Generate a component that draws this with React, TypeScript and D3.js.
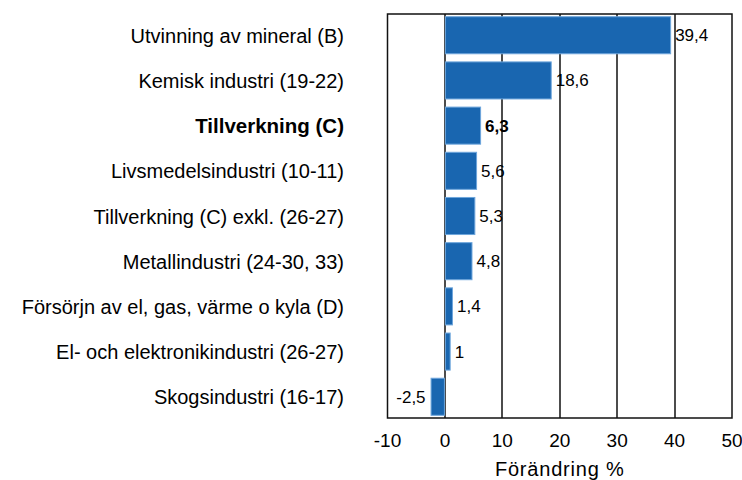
import React from 'react';
import { scaleLinear, scaleBand } from 'd3';

const categories = [
  'Utvinning av mineral (B)',
  'Kemisk industri (19-22)',
  'Tillverkning (C)',
  'Livsmedelsindustri (10-11)',
  'Tillverkning (C) exkl. (26-27)',
  'Metallindustri (24-30, 33)',
  'Försörjn av el, gas, värme o kyla (D)',
  'El- och elektronikindustri (26-27)',
  'Skogsindustri (16-17)',
];
const values = [39.4, 18.6, 6.3, 5.6, 5.3, 4.8, 1.4, 1, -2.5];
const boldCategory = 'Tillverkning (C)';
const ticks = [-10, 0, 10, 20, 30, 40, 50];
const axisTitle = 'Förändring %';

const width = 742;
const height = 480;
const plot = { left: 387.5, right: 732, top: 14, bottom: 418 };

const fmt = (v: number) => String(v).replace('.', ',');

export default function App() {
  const x = scaleLinear().domain([-10, 50]).range([plot.left, plot.right]);
  const y = scaleBand<string>()
    .domain(categories)
    .range([plot.top, plot.bottom])
    .paddingInner(0.18)
    .paddingOuter(0.06);
  const font = '"Liberation Sans", Arial, sans-serif';

  return (
    <div style={{ position: 'fixed', left: 0, top: 0 }}>
      <svg width={width} height={height} style={{ display: 'block', background: '#fff' }}>
        {/* grid lines */}
        {ticks.filter((t) => t > -10 && t < 50).map((t) => (
          <line key={t} x1={Math.round(x(t))} x2={Math.round(x(t))}
            y1={plot.top} y2={plot.bottom} stroke="#111" strokeWidth={1.5} />
        ))}
        {/* bars */}
        {categories.map((c, i) => {
          const v = values[i];
          const x0 = x(Math.min(0, v));
          const x1 = x(Math.max(0, v));
          return (
            <rect key={c} x={x0 + 0.5} y={y(c)!} width={Math.max(1, x1 - x0 - 1)} height={y.bandwidth()}
              fill="#1966b0" stroke="#6ea6dc" strokeWidth={1} />
          );
        })}
        {/* frame */}
        <rect x={plot.left} y={plot.top} width={plot.right - plot.left} height={plot.bottom - plot.top}
          fill="none" stroke="#111" strokeWidth={1.5} />
        {/* value labels */}
        {categories.map((c, i) => {
          const v = values[i];
          const cy = y(c)! + y.bandwidth() / 2;
          const bold = c === boldCategory;
          return (
            <text key={c} x={v >= 0 ? x(v) + 4 : x(v) - 5} y={cy + 6}
              textAnchor={v >= 0 ? 'start' : 'end'} fontFamily={font} fontSize={17}
              fontWeight={bold ? 'bold' : 'normal'} fill="#000">
              {fmt(v)}
            </text>
          );
        })}
        {/* category labels */}
        {categories.map((c) => {
          const cy = y(c)! + y.bandwidth() / 2;
          const bold = c === boldCategory;
          return (
            <text key={c} x={344} y={cy + 7.5} textAnchor="end" fontFamily={font}
              fontSize={bold ? 20.5 : 20} fontWeight={bold ? 'bold' : 'normal'} fill="#000">
              {c}
            </text>
          );
        })}
        {/* tick labels */}
        {ticks.map((t) => (
          <text key={t} x={x(t)} y={447} textAnchor="middle" fontFamily={font} fontSize={19} fill="#000">
            {t}
          </text>
        ))}
        <text x={x(20)} y={476} textAnchor="middle" fontFamily={font} fontSize={20}
          letterSpacing={0.8} fill="#000">
          {axisTitle}
        </text>
      </svg>
    </div>
  );
}
